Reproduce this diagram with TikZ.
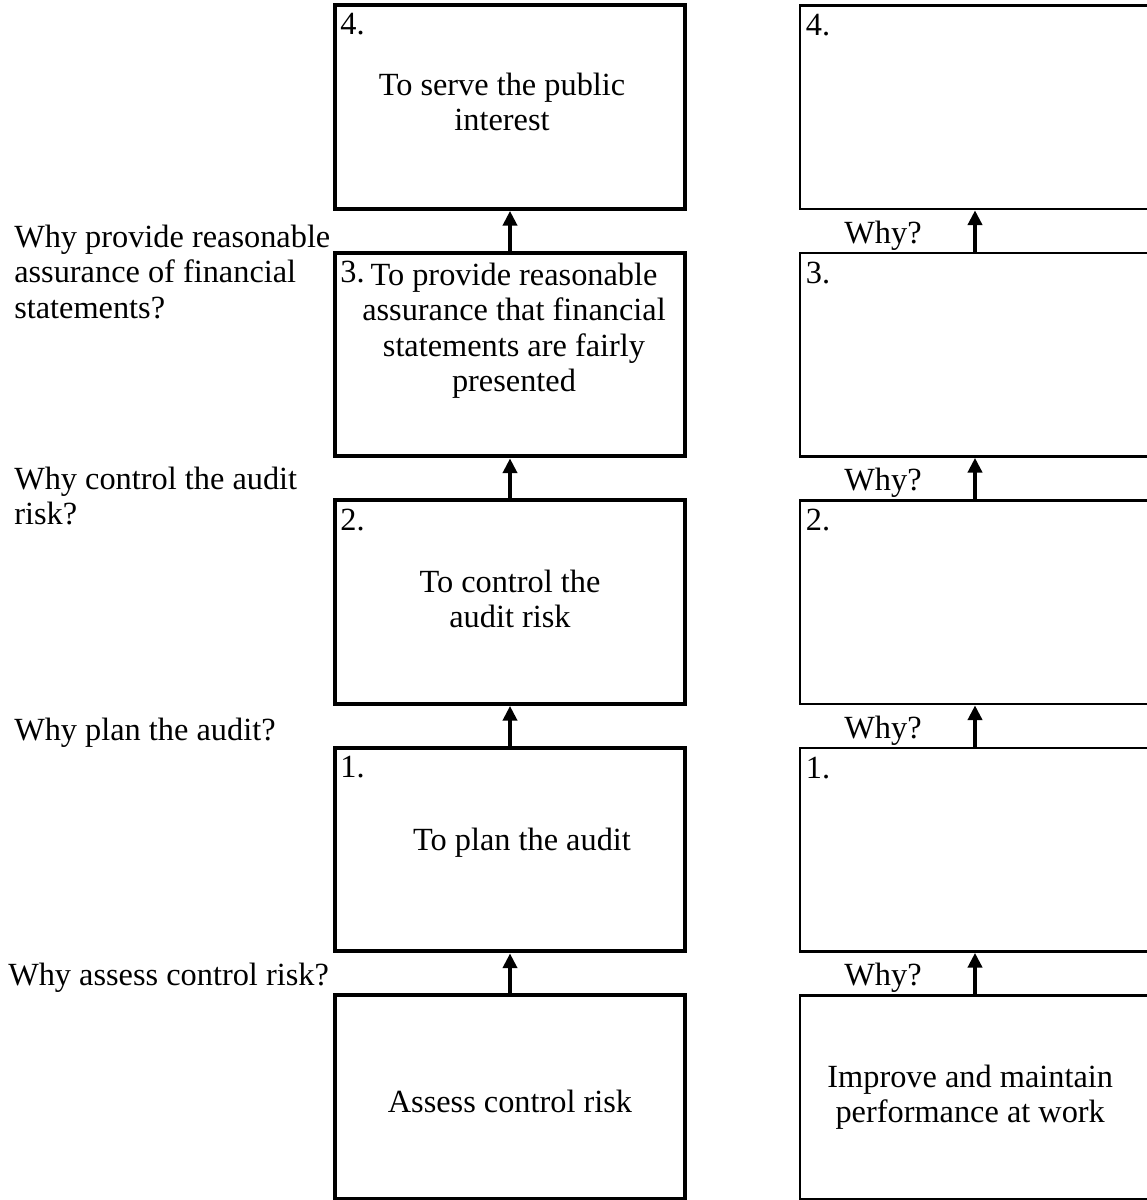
\documentclass[tikz,border=0pt]{standalone}
\usepackage{fontspec}
\setmainfont{Liberation Serif}
\usetikzlibrary{arrows.meta}
\newcommand{\BIG}{\fontsize{23}{25}\selectfont}

\begin{document}
\begin{tikzpicture}[
    leftbox/.style={draw,line width=2.8pt,minimum width=8.75cm,minimum height=5.0875cm,inner sep=0pt},
    rightbox/.style={draw,line width=2pt,minimum width=8.75cm,minimum height=5.0875cm,inner sep=0pt},
    num/.style={anchor=north west,inner xsep=5pt,inner ysep=7pt,font=\BIG},
    txt/.style={align=center,font=\BIG},
    ask/.style={align=left,anchor=west,font=\BIG,inner sep=0pt},
    up/.style={line width=2.6pt,-{Triangle[length=10.5pt,width=10pt]}}
  ]
    \useasboundingbox (0,0) rectangle (28.65,30);

    \foreach \k/\y in {4/27.32, 3/21.1325, 2/14.945, 1/8.7575, 0/2.57} {
        \node[leftbox] (l\k) at (12.75,\y) {};
        \node[rightbox] (r\k) at (24.375,\y) {};
    }
    \foreach \k in {1,...,4} {
        \node[num] (ln\k) at (l\k.north west) {\k.};
        \node[num] (rn\k) at (r\k.north west) {\k.};
    }

    \foreach \a/\b in {0/1, 1/2, 2/3, 3/4} {
        \draw[up] (l\a.north) -- (l\b.south);
        \draw[up] (r\a.north) -- (r\b.south);
        \node[anchor=base,font=\BIG] (w\a) at ([xshift=-2.3cm,yshift=0.21cm]r\a.north) {Why?};
    }

    \node[txt] (t4) at ([shift={(-0.2,0.13)}]l4.center) {To serve the public\\interest};
    \node[txt] (t3) at ([shift={(0.1,0.6)}]l3.center) {To provide reasonable\\assurance that financial\\statements are fairly\\presented};
    \node[txt] (t2) at ([shift={(0,0.09)}]l2.center) {To control the\\audit risk};
    \node[txt] (t1) at ([shift={(0.3,0.17)}]l1.center) {To plan the audit};
    \node[txt] (t0) at ([shift={(0,-0.1)}]l0.center) {Assess control risk};
    \node[txt] (s0) at ([shift={(-0.12,0)}]r0.center) {Improve and maintain\\performance at work};

    \node[ask] (q3) at (0.35,23.2) {Why provide reasonable\\assurance of financial\\statements?};
    \node[ask] (q2) at (0.35,17.6) {Why control the audit\\risk?};
    \node[ask] (q1) at (0.35,11.675) {Why plan the audit?};
    \node[ask] (q0) at (0.2,5.55) {Why assess control risk?};
  \end{tikzpicture}
\end{document}
